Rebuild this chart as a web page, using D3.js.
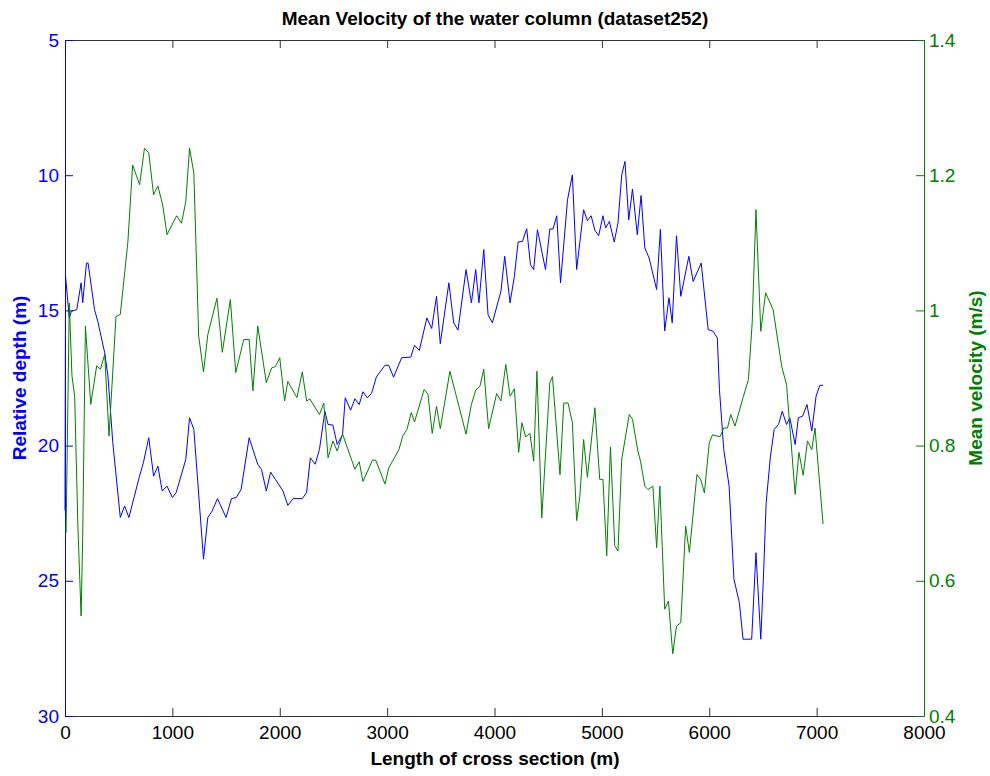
<!DOCTYPE html>
<html>
<head>
<meta charset="utf-8">
<script src="https://cdn.jsdelivr.net/npm/d3@7"></script>
<style>
  body { margin: 0; background: #fff; }
  svg { display: block; font-family: "Liberation Sans", Arial, sans-serif; }
</style>
</head>
<body>
<svg id="chart" width="990" height="776"></svg>
<script>
// Relative depth along the cross section (m)
const depthDistance = [0,5,40,60,110,150,165,200,215,275,305,370,400,445,515,555,595,690,730,780,825,865,905,950,1000,1035,1125,1160,1200,1290,1330,1370,1420,1500,1550,1595,1640,1715,1795,1830,1875,1915,1960,2030,2075,2125,2210,2250,2285,2330,2370,2420,2450,2495,2535,2585,2610,2660,2700,2740,2775,2815,2855,2900,2980,3015,3060,3135,3220,3255,3300,3370,3415,3460,3495,3575,3620,3660,3735,3785,3825,3855,3900,3940,3980,4060,4095,4145,4185,4220,4260,4300,4335,4365,4400,4475,4515,4545,4580,4615,4680,4725,4765,4830,4865,4900,4935,4970,5010,5035,5070,5115,5150,5185,5215,5250,5285,5330,5365,5400,5440,5510,5545,5585,5625,5655,5695,5735,5810,5850,5925,5990,6035,6075,6095,6135,6185,6230,6280,6315,6395,6435,6480,6505,6530,6570,6605,6645,6680,6720,6750,6800,6830,6870,6910,6955,6995,7030,7060];
const depthValues = [22.4,13.74,15.28,15.03,14.97,13.98,14.72,13.25,13.25,14.97,15.40,16.57,17.43,19.89,22.66,22.23,22.66,21.19,20.63,19.71,21.13,20.76,21.68,21.50,21.92,21.74,20.51,18.97,19.40,24.20,22.66,22.42,21.96,22.66,21.96,21.92,21.62,19.71,20.69,20.88,21.68,20.98,21.25,21.68,22.21,21.96,21.96,21.74,20.45,20.69,20.14,18.73,19.22,19.24,19.96,19.59,18.23,18.69,18.27,18.48,18.01,18.23,18.07,17.46,17.03,17.03,17.47,16.75,16.73,16.29,16.48,15.28,15.67,14.48,16.23,13.98,15.46,15.73,13.49,14.72,13.49,14.72,12.75,15.16,15.46,14.29,13.00,14.72,13.74,12.47,12.45,11.98,13.31,13.49,12.02,13.49,11.99,11.99,11.50,13.98,10.91,9.99,13.49,11.28,11.68,11.50,12.04,12.24,11.50,11.95,11.71,12.47,11.77,9.99,9.49,11.65,10.51,12.20,10.75,12.69,13.06,14.23,12.00,15.76,14.53,15.46,12.24,14.48,13.00,13.93,13.25,15.71,15.77,16.02,17.92,20.14,21.50,24.94,25.80,27.16,27.16,23.96,27.16,24.82,22.11,20.39,19.40,19.22,18.73,19.22,18.97,19.96,18.97,18.91,18.48,19.46,18.17,17.77,17.77];

// Mean velocity of the water column (m/s)
const velocityDistance = [10,40,65,90,120,150,165,190,240,295,330,370,410,475,515,585,630,695,740,780,825,865,910,950,1040,1085,1125,1160,1200,1245,1290,1330,1415,1465,1540,1590,1665,1715,1750,1795,1875,1925,1960,2000,2045,2075,2160,2210,2250,2280,2370,2410,2450,2495,2535,2585,2700,2740,2775,2865,2895,2980,3015,3110,3145,3185,3225,3255,3345,3380,3420,3460,3495,3585,3735,3785,3825,3865,3900,3945,4020,4060,4105,4145,4185,4225,4255,4290,4330,4365,4395,4440,4515,4540,4610,4645,4685,4725,4765,4795,4830,4865,4935,4980,5010,5045,5080,5120,5150,5185,5255,5285,5335,5360,5400,5430,5475,5510,5540,5585,5620,5660,5695,5735,5780,5815,5885,5920,5955,6000,6030,6100,6135,6170,6200,6240,6315,6365,6400,6435,6480,6525,6595,6675,6720,6800,6835,6875,6915,6955,6985,7060];
const velocityValues = [0.671,1.011,0.903,0.873,0.681,0.548,0.666,0.977,0.861,0.918,0.913,0.935,0.814,0.991,0.994,1.100,1.215,1.186,1.240,1.233,1.171,1.184,1.156,1.112,1.140,1.129,1.161,1.240,1.203,0.962,0.909,0.964,1.018,0.938,1.016,0.908,0.957,0.957,0.881,0.977,0.893,0.915,0.917,0.930,0.866,0.895,0.871,0.909,0.866,0.869,0.846,0.863,0.782,0.807,0.792,0.817,0.765,0.776,0.747,0.779,0.778,0.743,0.767,0.794,0.814,0.824,0.849,0.835,0.883,0.876,0.818,0.858,0.825,0.910,0.817,0.861,0.882,0.888,0.913,0.825,0.877,0.866,0.920,0.873,0.884,0.790,0.834,0.813,0.818,0.777,0.910,0.693,0.893,0.902,0.757,0.863,0.863,0.834,0.689,0.725,0.809,0.753,0.856,0.750,0.750,0.637,0.798,0.652,0.644,0.780,0.846,0.839,0.792,0.777,0.740,0.735,0.740,0.649,0.740,0.558,0.570,0.492,0.533,0.538,0.681,0.642,0.757,0.750,0.730,0.804,0.816,0.813,0.826,0.826,0.846,0.829,0.871,0.898,0.982,1.149,0.969,1.026,1.001,0.917,0.890,0.728,0.790,0.756,0.807,0.794,0.826,0.684];

const distanceTicks = [0,1000,2000,3000,4000,5000,6000,7000,8000];
const depthTicks = [5,10,15,20,25,30];
const velocityTicks = [0.4,0.6,0.8,1,1.2,1.4];

const titleText = "Mean Velocity of the water column (dataset252)";
const xLabel = "Length of cross section (m)";
const depthLabel = "Relative depth (m)";
const velocityLabel = "Mean velocity (m/s)";

const BLUE = "#0000ff";
const GREEN = "#008000";
const AXIS_GREY = "#333";

const plotLeft = 65, plotRight = 924, plotTop = 40, plotBottom = 716;
const fontSize = 19;

const svg = d3.select("#chart");

const x = d3.scaleLinear().domain([0, 8000]).range([plotLeft, plotRight]);
const yDepth = d3.scaleLinear().domain([5, 30]).range([plotTop, plotBottom]);
const yVel = d3.scaleLinear().domain([0.4, 1.4]).range([plotBottom, plotTop]);

function styleAxis(g, color, textColor) {
  g.select(".domain").attr("stroke", color).attr("stroke-width", 1);
  g.selectAll(".tick line").attr("stroke", color);
  g.selectAll(".tick text").attr("fill", textColor).attr("font-size", fontSize)
    .attr("font-family", '"Liberation Sans", Arial, sans-serif');
}

// Top frame line with inward ticks, no labels
svg.append("g")
  .attr("transform", `translate(0,${plotTop})`)
  .call(d3.axisTop(x).tickValues(distanceTicks).tickSizeInner(-8).tickSizeOuter(0).tickFormat(""))
  .call(g => styleAxis(g, AXIS_GREY, "#000"));

// Bottom distance axis
svg.append("g")
  .attr("transform", `translate(0,${plotBottom})`)
  .call(d3.axisBottom(x).tickValues(distanceTicks).tickSizeInner(-8).tickSizeOuter(0)
    .tickPadding(10).tickFormat(d3.format("d")))
  .call(g => styleAxis(g, AXIS_GREY, "#000"));

// Left depth axis (reversed)
svg.append("g")
  .attr("transform", `translate(${plotLeft},0)`)
  .call(d3.axisLeft(yDepth).tickValues(depthTicks).tickSizeInner(-8).tickSizeOuter(0)
    .tickPadding(6).tickFormat(d3.format("d")))
  .call(g => styleAxis(g, BLUE, BLUE));

// Right velocity axis
svg.append("g")
  .attr("transform", `translate(${plotRight},0)`)
  .call(d3.axisRight(yVel).tickValues(velocityTicks).tickSizeInner(-8).tickSizeOuter(0)
    .tickPadding(5).tickFormat(d => String(d)))
  .call(g => styleAxis(g, GREEN, GREEN));

// Depth series
const depthLine = d3.line()
  .x((d, i) => x(depthDistance[i]))
  .y(d => yDepth(d));
svg.append("path")
  .datum(depthValues)
  .attr("fill", "none")
  .attr("stroke", BLUE)
  .attr("stroke-width", 1)
  .attr("d", depthLine);

// Velocity series
const velLine = d3.line()
  .x((d, i) => x(velocityDistance[i]))
  .y(d => yVel(d));
svg.append("path")
  .datum(velocityValues)
  .attr("fill", "none")
  .attr("stroke", GREEN)
  .attr("stroke-width", 1)
  .attr("d", velLine);

// Title and axis labels
const midX = (plotLeft + plotRight) / 2 + 0.5;
svg.append("text")
  .attr("x", midX).attr("y", 25)
  .attr("text-anchor", "middle")
  .attr("font-size", fontSize).attr("font-weight", "bold")
  .attr("fill", "#000")
  .text(titleText);

svg.append("text")
  .attr("x", midX).attr("y", 765)
  .attr("text-anchor", "middle")
  .attr("font-size", fontSize).attr("font-weight", "bold")
  .attr("fill", "#000")
  .text(xLabel);

const midY = (plotTop + plotBottom) / 2;
svg.append("text")
  .attr("transform", `translate(26,${midY}) rotate(-90)`)
  .attr("text-anchor", "middle")
  .attr("font-size", fontSize).attr("font-weight", "bold")
  .attr("fill", BLUE)
  .text(depthLabel);

svg.append("text")
  .attr("transform", `translate(982,${midY}) rotate(-90)`)
  .attr("text-anchor", "middle")
  .attr("font-size", fontSize).attr("font-weight", "bold")
  .attr("fill", GREEN)
  .text(velocityLabel);
</script>
</body>
</html>
